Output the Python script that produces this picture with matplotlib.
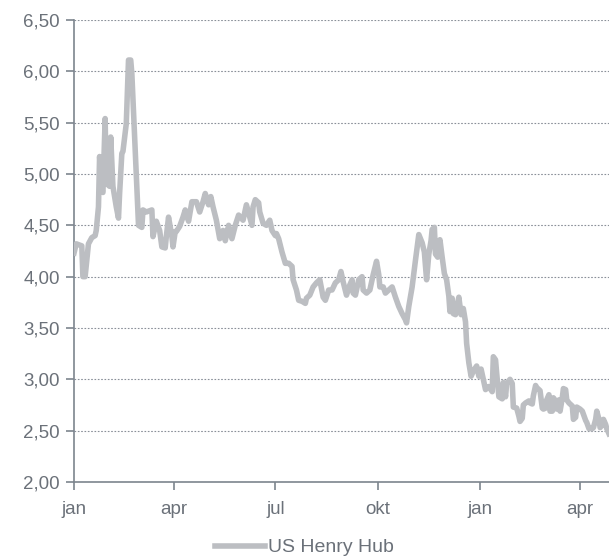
import numpy as np
import pandas as pd
import matplotlib
matplotlib.use("Agg")
import matplotlib.pyplot as plt
from matplotlib.ticker import FuncFormatter, MultipleLocator

plt.rcParams['font.family'] = ['Liberation Sans', 'DejaVu Sans']

start_date = "2014-01-01"
day_offsets = [0, 2, 7, 8, 10, 13, 16, 19, 20, 22, 23, 25, 26, 28, 29, 32, 33, 35, 38, 40,
               41, 43, 44, 47, 49, 51, 52, 56, 58, 61, 62, 65, 70, 71, 74, 77, 79, 82, 83, 85,
               88, 89, 91, 92, 95, 98, 100, 103, 106, 110, 113, 116, 118, 121, 123, 125, 128, 131, 134, 136,
               139, 142, 145, 148, 152, 155, 160, 161, 163, 166, 167, 170, 173, 176, 178, 181, 182, 184, 187, 190,
               193, 196, 197, 200, 202, 205, 208, 209, 212, 215, 218, 221, 224, 226, 229, 232, 235, 238, 240, 242,
               245, 248, 250, 251, 253, 256, 259, 260, 263, 266, 269, 272, 274, 275, 278, 280, 283, 286, 289, 292,
               295, 298, 299, 301, 304, 307, 310, 313, 315, 317, 319, 321, 322, 324, 325, 327, 329, 331, 333, 335,
               337, 338, 340, 341, 343, 344, 346, 348, 350, 352, 353, 355, 357, 359, 362, 364, 366, 370, 373, 376,
               377, 379, 380, 382, 385, 386, 388, 389, 392, 394, 395, 398, 400, 401, 403, 404, 406, 409, 410, 412,
               413, 415, 416, 419, 421, 422, 424, 425, 427, 428, 430, 431, 433, 434, 436, 437, 439, 440, 442, 443,
               445, 448, 449, 451, 452, 455, 457, 458, 460, 461, 463, 466, 467, 469, 470, 472, 473, 475, 476, 478,
               479, 481]
henry_hub = [4.23, 4.32, 4.30, 4.00, 4.00, 4.32, 4.38, 4.40, 4.45, 4.68, 5.17, 4.84, 4.82, 5.54, 4.91, 4.88, 5.36, 4.88, 4.68, 4.57,
             4.81, 5.20, 5.22, 5.49, 6.11, 6.11, 5.98, 5.00, 4.50, 4.48, 4.65, 4.63, 4.65, 4.39, 4.54, 4.45, 4.29, 4.28, 4.39, 4.58,
             4.39, 4.29, 4.44, 4.44, 4.49, 4.58, 4.65, 4.54, 4.73, 4.73, 4.63, 4.73, 4.81, 4.70, 4.78, 4.68, 4.55, 4.37, 4.45, 4.35,
             4.50, 4.37, 4.50, 4.60, 4.55, 4.70, 4.50, 4.68, 4.75, 4.72, 4.63, 4.52, 4.50, 4.55, 4.45, 4.40, 4.42, 4.37, 4.24, 4.13,
             4.13, 4.10, 3.97, 3.87, 3.77, 3.76, 3.74, 3.79, 3.82, 3.90, 3.94, 3.97, 3.80, 3.77, 3.87, 3.87, 3.94, 3.97, 4.05, 3.95,
             3.82, 3.92, 3.97, 3.84, 3.82, 3.97, 4.00, 3.87, 3.84, 3.87, 4.02, 4.15, 4.02, 3.90, 3.90, 3.84, 3.87, 3.90, 3.80, 3.71,
             3.64, 3.58, 3.55, 3.71, 3.90, 4.16, 4.41, 4.33, 4.24, 3.97, 4.22, 4.35, 4.46, 4.48, 4.22, 4.19, 4.36, 4.19, 4.03, 3.97,
             3.81, 3.66, 3.79, 3.64, 3.63, 3.69, 3.80, 3.63, 3.69, 3.56, 3.35, 3.16, 3.03, 3.08, 3.13, 3.03, 3.10, 2.90, 2.93, 2.88,
             3.22, 3.19, 3.06, 2.83, 2.81, 2.97, 2.83, 2.96, 3.00, 2.96, 2.73, 2.72, 2.64, 2.59, 2.62, 2.75, 2.77, 2.79, 2.77, 2.76,
             2.84, 2.94, 2.92, 2.89, 2.72, 2.71, 2.72, 2.80, 2.85, 2.69, 2.69, 2.82, 2.79, 2.71, 2.80, 2.69, 2.82, 2.91, 2.90, 2.80,
             2.77, 2.74, 2.61, 2.63, 2.73, 2.71, 2.69, 2.66, 2.60, 2.58, 2.52, 2.52, 2.53, 2.61, 2.69, 2.61, 2.53, 2.56, 2.61, 2.56,
             2.52, 2.47]
series_name = "US Henry Hub"
tick_dates = ["2014-01-01", "2014-04-01", "2014-07-01", "2014-10-01", "2015-01-01", "2015-04-01"]
tick_labels = ["jan", "apr", "jul", "okt", "jan", "apr"]

dates = pd.Timestamp(start_date) + pd.to_timedelta(day_offsets, unit="D")

grey_txt = "#6b7179"
axis_col = "#7d858e"
line_col = "#bcbec2"

fig = plt.figure(figsize=(6.09, 5.60), dpi=100)
ax = fig.add_axes([74/609, 1-482/560, 1-74/609, (482-20)/560])
ax.plot(dates, henry_hub, color=line_col, lw=4, solid_joinstyle="round", label=series_name, zorder=3)

ax.set_ylim(2.0, 6.5)
ax.yaxis.set_major_locator(MultipleLocator(0.5))
ax.yaxis.set_major_formatter(FuncFormatter(lambda v, p: f"{v:.2f}".replace(".", ",")))
ax.set_xlim(pd.Timestamp(start_date), pd.Timestamp(start_date) + pd.Timedelta(days=481))
ax.set_xticks(pd.to_datetime(tick_dates))
ax.set_xticklabels(tick_labels)

ax.grid(axis="y", color="#8a9099", linestyle=(0, (1.5, 1.5)), linewidth=0.8, zorder=1)
for s in ["top", "right"]:
    ax.spines[s].set_visible(False)
for s in ["left", "bottom"]:
    ax.spines[s].set_color(axis_col)
    ax.spines[s].set_linewidth(1.2)
ax.tick_params(axis="both", colors=axis_col, labelcolor=grey_txt, labelsize=13.5, length=6, width=1.2)
ax.tick_params(axis="x", pad=8)
ax.tick_params(axis="y", pad=4)

fig.legend(loc="lower center", bbox_to_anchor=(0.5, -0.025), frameon=False, fontsize=14,
           handlelength=2.6, handletextpad=0.15, labelcolor=grey_txt)

fig.savefig("out.png", dpi=100)
